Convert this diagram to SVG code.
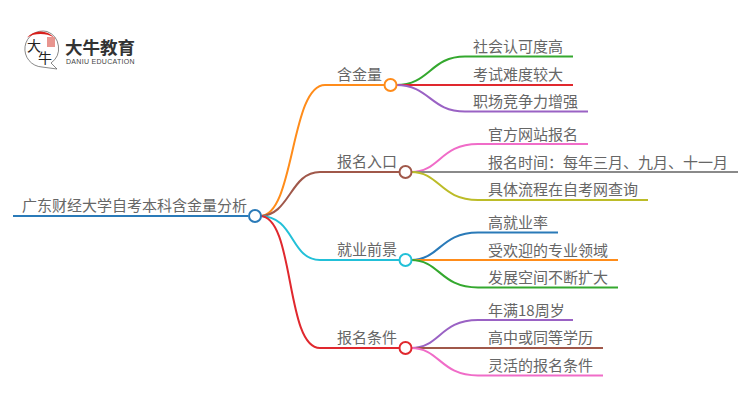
<svg xmlns="http://www.w3.org/2000/svg" width="750" height="410" viewBox="0 0 750 410">
<style>
text{font-family:"Noto Sans CJK SC","Liberation Sans",sans-serif;fill:#666;font-size:15px}
#connectors path{fill:none;stroke-width:2}
.n{fill:#fff;stroke-width:2}
</style>
<rect width="750" height="410" fill="#fff"/>
<g id="connectors">
<path d="M13 216H248" stroke="#2a7ab8" stroke-width="2.5"/>
<path d="M260 216C295 216 290 85 325 85H385" stroke="#ff8c1a"/>
<path d="M260 216C290 216 290 172 320 172H399" stroke="#a0584a"/>
<path d="M260 216C295 216 290 260 320 260H399" stroke="#22c0d8"/>
<path d="M260 216C295 216 285 348 320 348H399" stroke="#e0282e"/>
<path d="M396 85C430 85 430 56.500 465 56.500H573" stroke="#34a82e"/>
<path d="M396 85H573" stroke="#e0282e"/>
<path d="M396 85C430 85 430 111.500 465 111.500H588" stroke="#9a62c4"/>
<path d="M411 172C440 172 440 144 478 144H588" stroke="#f06cc8"/>
<path d="M411 172H738" stroke="#8a8a8a"/>
<path d="M411 172C440 172 440 200 478 200H648" stroke="#bcbc28"/>
<path d="M411 260C440 260 440 232.500 478 232.500H558" stroke="#2a7ab8"/>
<path d="M411 260H618" stroke="#ff8c1a"/>
<path d="M411 260C440 260 440 287.500 478 287.500H618" stroke="#34a82e"/>
<path d="M411 348C440 348 440 320 478 320H573" stroke="#9a62c4"/>
<path d="M411 348H603" stroke="#a0584a"/>
<path d="M411 348C440 348 440 375.500 478 375.500H603" stroke="#f06cc8"/>
</g>
<g id="logo">
<path d="M47 31.500A18 18 0 1 0 42 67L57 69L51 63A18 18 0 0 0 47 31.500Z" fill="#fff" stroke="#555" stroke-width="0.7"/>
<path d="M27 37.500A18 18 0 0 1 54 37.500A24 20 0 0 0 27 37.500Z" fill="#d8201c"/>
<rect x="47" y="37" width="8" height="10" fill="#e8958f"/>
<text x="27" y="51" style="font-size:14px;fill:#222">大</text>
<text x="38" y="63" style="font-size:14px;fill:#222">牛</text>
<text x="65" y="54" style="font-size:17.500px;font-weight:700;fill:#333">大牛教育</text>
<text x="66" y="63.500" style="font-family:'Liberation Sans',sans-serif;font-size:7px;fill:#444;letter-spacing:.3px">DANIU EDUCATION</text>
</g>
<g id="root"><text x="22" y="211">广东财经大学自考本科含金量分析</text><circle class="n" cx="255" cy="216" r="6" stroke="#2a7ab8"/></g>
<g id="b1"><text x="337" y="80">含金量</text><circle class="n" cx="390.500" cy="85" r="6" stroke="#ff8c1a"/></g>
<g id="b2"><text x="337" y="167">报名入口</text><circle class="n" cx="405.500" cy="172" r="6" stroke="#a0584a"/></g>
<g id="b3"><text x="337" y="255">就业前景</text><circle class="n" cx="405.500" cy="260" r="6" stroke="#22c0d8"/></g>
<g id="b4"><text x="337" y="343">报名条件</text><circle class="n" cx="405.500" cy="348" r="6" stroke="#e0282e"/></g>
<g id="l1"><text x="473" y="52">社会认可度高</text></g>
<g id="l2"><text x="473" y="80">考试难度较大</text></g>
<g id="l3"><text x="473" y="107">职场竞争力增强</text></g>
<g id="l4"><text x="488" y="140">官方网站报名</text></g>
<g id="l5"><text x="488" y="168">报名时间：每年三月、九月、十一月</text></g>
<g id="l6"><text x="488" y="195">具体流程在自考网查询</text></g>
<g id="l7"><text x="488" y="228">高就业率</text></g>
<g id="l8"><text x="488" y="256">受欢迎的专业领域</text></g>
<g id="l9"><text x="488" y="283">发展空间不断扩大</text></g>
<g id="l10"><text x="488" y="316">年满18周岁</text></g>
<g id="l11"><text x="488" y="343">高中或同等学历</text></g>
<g id="l12"><text x="488" y="371">灵活的报名条件</text></g>
</svg>
